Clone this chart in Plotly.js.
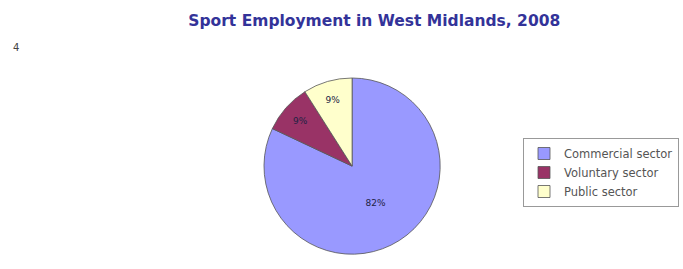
<!DOCTYPE html>
<html>
<head>
<meta charset="utf-8">
<script src="https://cdn.plot.ly/plotly-3.0.1.min.js"></script>
<style>html,body{margin:0;padding:0;background:#fff;}#chart{width:683px;height:269px;}</style>
</head>
<body>
<div id="chart"></div>
<script>
const categories = ["Commercial sector", "Voluntary sector", "Public sector"];
const shares = [82, 9, 9];
const sliceColors = ["#9999FF", "#993366", "#FFFFCC"];
const chartTitle = "Sport Employment in West Midlands, 2008";

const trace = {
  type: "pie",
  labels: categories,
  values: shares,
  sort: false,
  direction: "clockwise",
  rotation: 0,
  marker: {colors: sliceColors, line: {color: "#555555", width: 0.8}},
  textinfo: "percent",
  texttemplate: "%{value}%",
  textposition: "inside",
  insidetextorientation: "horizontal",
  textfont: {family: "DejaVu Sans", size: 9, color: "#222244"},
  domain: {x: [0.383, 0.648], y: [0.055, 0.71]},
  hoverinfo: "none"
};

const layout = {
  width: 683, height: 269,
  margin: {l: 0, r: 0, t: 0, b: 0},
  paper_bgcolor: "#ffffff",
  plot_bgcolor: "#ffffff",
  title: {text: "<b>" + chartTitle + "</b>", x: 0.548, xanchor: "center", y: 1 - 21/269, yanchor: "middle",
          font: {family: "DejaVu Sans", size: 15.5, color: "#333399"}},
  showlegend: true,
  legend: {x: 523/683, xanchor: "left", y: 1 - 138/269, yanchor: "top",
           bordercolor: "#999999", borderwidth: 1, bgcolor: "#ffffff",
           font: {family: "DejaVu Sans", size: 11.5, color: "#555555"},
           itemwidth: 30, tracegroupgap: 0},
  annotations: [{text: "4", x: 16/683, y: 1 - 47/269, xref: "paper", yref: "paper",
                 xanchor: "center", yanchor: "middle",
                 showarrow: false, font: {family: "DejaVu Sans", size: 10, color: "#444444"}}]
};

Plotly.newPlot("chart", [trace], layout, {displayModeBar: false, staticPlot: true});
</script>
</body>
</html>
